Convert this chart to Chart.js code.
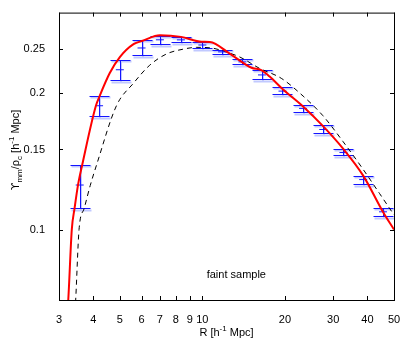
<!DOCTYPE html>
<html>
<head>
<meta charset="utf-8">
<script src="https://cdn.jsdelivr.net/npm/chart.js@4.4.1/dist/chart.umd.min.js"></script>
<style>
  html, body { margin: 0; padding: 0; background: #fff; }
  #wrap { width: 407px; height: 339px; }
</style>
</head>
<body>
<div id="wrap"><canvas id="myChart" width="407" height="339"></canvas></div>
<script>
// measured points (R, Upsilon/rho_c) with error bar limits
var radius = [3.57, 4.2, 5.0, 6.0, 7.0, 8.35, 10.0, 11.8, 14.0, 16.5, 19.6, 23.3, 27.6, 32.7, 38.6, 45.6];
var upsilon = [0.1253, 0.1872, 0.2246, 0.2508, 0.2614, 0.2613, 0.2546, 0.2459, 0.2337, 0.2188, 0.2016, 0.1847, 0.166, 0.1477, 0.1288, 0.1094];
var errHigh = [0.1387, 0.1963, 0.2356, 0.2605, 0.267, 0.2657, 0.258, 0.2486, 0.2372, 0.2243, 0.2059, 0.1878, 0.1695, 0.150, 0.1314, 0.1118];
var errLow = [0.1113, 0.178, 0.2135, 0.2415, 0.2557, 0.258, 0.2508, 0.2434, 0.231, 0.2148, 0.1983, 0.1817, 0.1632, 0.1457, 0.1261, 0.1073];

// red model curve
var modelR = [3.22, 3.242, 3.34, 3.42, 3.52, 3.65, 4.09, 4.22, 4.59, 5.0, 5.61, 6.06, 7.0, 8.36, 9.95, 10.65, 12.62, 15.1, 16.4, 17.6, 19.7, 23.3, 27.5, 32.6, 38.6, 45.6, 50];
var modelValue = [0.066, 0.0698, 0.1, 0.1115, 0.1254, 0.1392, 0.1872, 0.1966, 0.2206, 0.2395, 0.2557, 0.2601, 0.2674, 0.2653, 0.2588, 0.2585, 0.2434, 0.2269, 0.2243, 0.217, 0.2032, 0.1865, 0.169, 0.1506, 0.1314, 0.1093, 0.1];

// dashed curve
var dashR = [3.43, 3.45, 3.55, 3.71, 3.90, 4.12, 4.86, 5.61, 6.43, 7.41, 8.49, 9.54, 10.97, 12.27, 13.71, 16.19, 19.4, 23.3, 27.5, 32.6, 38.3, 44.3, 50];
var dashValue = [0.066, 0.0698, 0.1, 0.1115, 0.125, 0.1392, 0.1872, 0.2099, 0.2299, 0.2434, 0.2492, 0.2516, 0.2504, 0.2455, 0.2395, 0.2261, 0.2151, 0.1966, 0.1781, 0.1561, 0.1365, 0.12, 0.1077];

// axis ticks
var xTicks = [3, 4, 5, 6, 7, 8, 9, 10, 20, 30, 40, 50];
var yTicks = [0.1, 0.15, 0.2, 0.25];

var FONT = '"Liberation Sans", Arial, sans-serif';

function pairs(xs, ys) {
    return xs.map((x, i) => ({ x: x, y: ys[i] }));
}

// draw text with sub/superscripts
function drawRich(ctx, parts, x, y) {
    var total = 0;
    var fontOf = p => (p.sub || p.sup ? 8 : 11) + 'px ' + (p.dv ? '"DejaVu Sans", ' : '') + FONT;
    parts.forEach(p => {
        ctx.font = fontOf(p);
        p.w = ctx.measureText(p.t).width;
        total += p.w;
    });
    var cx = x - total / 2;
    parts.forEach(p => {
        ctx.font = fontOf(p);
        var dy = p.sub ? 3 : (p.sup ? -5 : 0);
        ctx.fillText(p.t, cx, y + dy);
        cx += p.w;
    });
}

var errorBars = {
    id: 'errorBars',
    beforeDatasetsDraw(chart) {
        var ctx = chart.ctx, xs = chart.scales.x, ys = chart.scales.y;
        ctx.save();
        radius.forEach((r, i) => {
            var px = Math.round(xs.getPixelForValue(r)) + 0.5;
            var top = Math.round(ys.getPixelForValue(errHigh[i])) + 0.5;
            var bot = Math.round(ys.getPixelForValue(errLow[i])) + 0.5;
            // light blue second bar, slightly offset
            ctx.strokeStyle = 'rgba(100,120,255,0.4)';
            ctx.lineWidth = 2;
            ctx.beginPath();
            ctx.moveTo(px - 9, top + 1); ctx.lineTo(px + 11, top + 1);
            ctx.moveTo(px - 9, bot + 2); ctx.lineTo(px + 11, bot + 2);
            ctx.moveTo(px + 0.5, top + 1); ctx.lineTo(px + 0.5, bot + 2);
            ctx.stroke();
            // dark blue bar
            ctx.strokeStyle = 'rgb(20,20,255)';
            ctx.lineWidth = 1;
            ctx.beginPath();
            ctx.moveTo(px - 10, top); ctx.lineTo(px + 10, top);
            ctx.moveTo(px - 10, bot); ctx.lineTo(px + 10, bot);
            ctx.moveTo(px, top); ctx.lineTo(px, bot);
            ctx.stroke();
        });
        ctx.restore();
    },
    afterDraw(chart) {
        var ctx = chart.ctx, a = chart.chartArea;
        var xs = chart.scales.x, ys = chart.scales.y;
        ctx.save();
        ctx.strokeStyle = '#000';
        ctx.lineWidth = 1;
        ctx.strokeRect(a.left + 0.5, a.top + 0.5, a.right - a.left, a.bottom - a.top);
        ctx.beginPath();
        xTicks.forEach(v => {
            var p = Math.round(xs.getPixelForValue(v)) + 0.5;
            ctx.moveTo(p, a.bottom); ctx.lineTo(p, a.bottom - 4);
            ctx.moveTo(p, a.top); ctx.lineTo(p, a.top + 4);
        });
        yTicks.forEach(v => {
            var p = Math.round(ys.getPixelForValue(v)) + 0.5;
            ctx.moveTo(a.left, p); ctx.lineTo(a.left + 4, p);
            ctx.moveTo(a.right, p); ctx.lineTo(a.right - 4, p);
        });
        ctx.stroke();

        ctx.fillStyle = '#000';
        ctx.textBaseline = 'alphabetic';
        ctx.textAlign = 'left';
        // annotation
        ctx.font = '11px ' + FONT;
        var tw = ctx.measureText('faint sample').width;
        ctx.fillText('faint sample', xs.getPixelForValue(13.3) - tw / 2, ys.getPixelForValue(0.0797) + 4);
        // x title
        drawRich(ctx, [{ t: 'R [h' }, { t: '-1', sup: true }, { t: ' Mpc]' }], (a.left + a.right) / 2, 336);
        // y title
        ctx.translate(19, 150);
        ctx.rotate(-Math.PI / 2);
        drawRich(ctx, [{ t: '\u03D2', dv: true }, { t: 'mm', sub: true }, { t: '/\u03C1' }, { t: 'c', sub: true },
            { t: ' [h' }, { t: '-1', sup: true }, { t: ' Mpc]' }], 0, 0);
        ctx.restore();
    }
};

var ctx = document.getElementById('myChart').getContext('2d');
var chart = new Chart(ctx, {
    type: 'scatter',
    data: {
        datasets: [{
            label: 'model',
            data: pairs(modelR, modelValue),
            showLine: true,
            borderColor: 'rgb(255,0,0)',
            borderWidth: 2,
            pointRadius: 0,
            cubicInterpolationMode: 'monotone',
            order: 0
        }, {
            label: 'data',
            data: pairs(radius, upsilon),
            showLine: false,
            pointStyle: 'line',
            pointRadius: 4,
            borderColor: 'rgb(20,20,255)',
            borderWidth: 1,
            order: 1
        }, {
            label: 'linear',
            data: pairs(dashR, dashValue),
            showLine: true,
            borderColor: '#000',
            borderWidth: 1,
            borderDash: [5, 4],
            pointRadius: 0,
            cubicInterpolationMode: 'monotone',
            order: 2
        }]
    },
    options: {
        responsive: false,
        animation: false,
        layout: { padding: { top: 4, right: 13, left: 0, bottom: 0 } },
        plugins: { legend: { display: false }, tooltip: { enabled: false } },
        scales: {
            x: {
                type: 'logarithmic',
                min: 3,
                max: 50,
                grid: { display: false },
                border: { display: false },
                afterBuildTicks: s => { s.ticks = xTicks.map(v => ({ value: v })); },
                afterFit: s => { s.height = 39; },
                ticks: {
                    autoSkip: false,
                    maxRotation: 0,
                    padding: 5,
                    color: '#000',
                    font: { family: FONT, size: 11 },
                    callback: v => String(v)
                }
            },
            y: {
                type: 'logarithmic',
                min: 0.07,
                max: 0.30,
                grid: { display: false },
                border: { display: false },
                afterBuildTicks: s => { s.ticks = yTicks.map(v => ({ value: v })); },
                afterFit: s => { s.width = 59; },
                ticks: {
                    autoSkip: false,
                    padding: 6,
                    color: '#000',
                    font: { family: FONT, size: 11 },
                    callback: v => String(v)
                }
            }
        }
    },
    plugins: [errorBars]
});
</script>
</body>
</html>
